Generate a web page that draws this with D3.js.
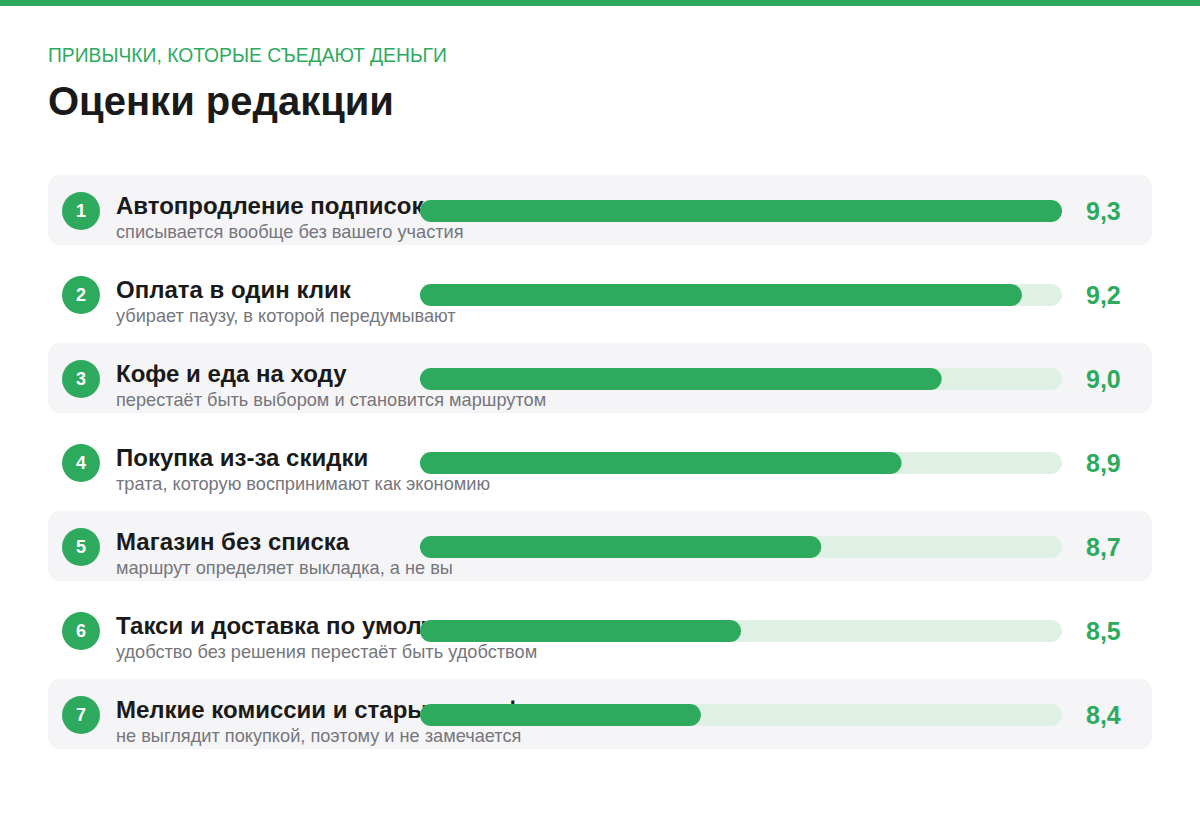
<!DOCTYPE html>
<html>
<head>
<meta charset="utf-8">
<script src="https://cdn.jsdelivr.net/npm/d3@7"></script>
<style>
  body { margin: 0; background: #fff; }
  svg { display: block; font-family: "Liberation Sans", Arial, sans-serif; }
</style>
</head>
<body>
<svg width="1200" height="815"></svg>
<script>
// data
var habits = [
    "Автопродление подписок",
    "Оплата в один клик",
    "Кофе и еда на ходу",
    "Покупка из-за скидки",
    "Магазин без списка",
    "Такси и доставка по умолчанию",
    "Мелкие комиссии и старые тарифы"
];
var notes = [
    "списывается вообще без вашего участия",
    "убирает паузу, в которой передумывают",
    "перестаёт быть выбором и становится маршрутом",
    "трата, которую воспринимают как экономию",
    "маршрут определяет выкладка, а не вы",
    "удобство без решения перестаёт быть удобством",
    "не выглядит покупкой, поэтому и не замечается"
];
var scores = [9.3, 9.2, 9.0, 8.9, 8.7, 8.5, 8.4];
var kicker = "ПРИВЫЧКИ, КОТОРЫЕ СЪЕДАЮТ ДЕНЬГИ";
var title = "Оценки редакции";

function main() {
    var svg = d3.select("svg");
    var green = "#2eaa5e";

    var rows = habits.map(function(h, i) {
        return { rank: i + 1, name: h, note: notes[i], score: scores[i] };
    });

    // top stripe
    svg.append("rect")
        .attr("x", 0).attr("y", 0)
        .attr("width", 1200).attr("height", 6)
        .attr("fill", green);

    svg.append("text")
        .attr("x", 48).attr("y", 62)
        .attr("font-size", "19.3px")
        .attr("fill", green)
        .text(kicker);

    svg.append("text")
        .attr("x", 48).attr("y", 115)
        .attr("font-size", "40px")
        .attr("font-weight", "bold")
        .attr("fill", "#1a1a1a")
        .text(title);

    var yScale = d3.scaleBand()
        .domain(rows.map(function(d) { return d.rank; }))
        .range([175, 749])
        .paddingInner(14 / 84);

    var xScale = d3.scaleLinear()
        .domain([7.7, 9.3])
        .range([420, 1062]);

    var barH = 22;

    var row = svg.selectAll(".row")
        .data(rows)
        .enter().append("g")
        .attr("class", "row")
        .attr("transform", function(d) { return "translate(0," + yScale(d.rank) + ")"; });

    var bw = yScale.bandwidth();

    // zebra background
    row.filter(function(d, i) { return i % 2 === 0; })
        .append("rect")
        .attr("x", 48).attr("y", 0)
        .attr("width", 1104).attr("height", bw)
        .attr("rx", 12)
        .attr("fill", "#f5f5f7");

    row.append("circle")
        .attr("cx", 81).attr("cy", bw / 2 + 1)
        .attr("r", 19)
        .attr("fill", green);

    row.append("text")
        .attr("x", 81).attr("y", bw / 2 + 7)
        .attr("text-anchor", "middle")
        .attr("font-size", "18px")
        .attr("font-weight", "bold")
        .attr("fill", "#fff")
        .text(function(d) { return d.rank; });

    row.append("text")
        .attr("x", 116).attr("y", bw / 2 + 4)
        .attr("font-size", "24px")
        .attr("font-weight", "bold")
        .attr("fill", "#1a1a1a")
        .text(function(d) { return d.name; });

    row.append("text")
        .attr("x", 116).attr("y", bw / 2 + 28)
        .attr("font-size", "18.2px")
        .attr("fill", "#76767c")
        .text(function(d) { return d.note; });

    // track
    row.append("rect")
        .attr("x", xScale.range()[0])
        .attr("y", bw / 2 + 1 - barH / 2)
        .attr("width", xScale.range()[1] - xScale.range()[0])
        .attr("height", barH)
        .attr("rx", barH / 2)
        .attr("fill", "#dff1e5");

    // filled bar
    row.append("rect")
        .attr("x", xScale.range()[0])
        .attr("y", bw / 2 + 1 - barH / 2)
        .attr("width", function(d) { return xScale(d.score) - xScale.range()[0]; })
        .attr("height", barH)
        .attr("rx", barH / 2)
        .attr("fill", green);

    row.append("text")
        .attr("x", 1086).attr("y", bw / 2 + 10)
        .attr("font-size", "25px")
        .attr("font-weight", "bold")
        .attr("fill", green)
        .text(function(d) { return d3.format(".1f")(d.score).replace(".", ","); });
}
main();
</script>
</body>
</html>
